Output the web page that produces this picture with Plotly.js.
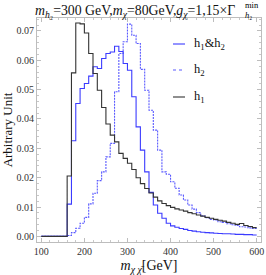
<!DOCTYPE html>
<html>
<head>
<meta charset="utf-8">
<script src="https://cdn.plot.ly/plotly-3.0.1.min.js"></script>
<style>html,body{margin:0;padding:0;background:#fff;}#chart{width:266px;height:275px;}</style>
</head>
<body>
<div id="chart"></div>
<script>
// Bin left edges (GeV), bin width 10 GeV
const binStart = [100,110,120,130,140,150,160,170,180,190,200,210,220,230,240,250,260,270,280,290,300,310,320,330,340,350,360,370,380,390,400,410,420,430,440,450,460,470,480,490,500,510,520,530,540,550,560,570,580,590];
const binEnd = 600;

// h1 & h2 (solid blue)
const h1h2 = [0,0,0,0,0,0,0.0110,0.0326,0.0453,0.0504,0.0521,0.0546,0.0578,0.0572,0.0606,0.0623,0.0628,0.0648,0.0630,0.0589,0.0566,0.0476,0.0373,0.0294,0.0220,0.0150,0.0107,0.0079,0.0062,0.0045,0.0036,0.0031,0.0027,0.0024,0.0020,0.0018,0.0016,0.0014,0.0013,0.0012,0.0011,0.0010,0.0009,0.0009,0.0008,0.0007,0.0007,0.0006,0.0006,0.0005];
// h2 (dashed blue)
const h2 = [0,0,0,0,0,0,0.0003,0.0013,0.0028,0.0045,0.0065,0.0111,0.0147,0.0190,0.0220,0.0271,0.0317,0.0493,0.0623,0.0663,0.0723,0.0685,0.0657,0.0569,0.0498,0.0430,0.0362,0.0294,0.0220,0.0212,0.0186,0.0164,0.0141,0.0124,0.0107,0.0093,0.0081,0.0070,0.0064,0.0058,0.0056,0.0050,0.0048,0.0043,0.0040,0.0037,0.0033,0.0032,0.0029,0.0027];
// h1 (solid black)
const h1 = [0,0,0,0,0,0,0.0206,0.0557,0.0727,0.0724,0.0693,0.0623,0.0555,0.0498,0.0439,0.0383,0.0345,0.0322,0.0283,0.0266,0.0249,0.0228,0.0200,0.0180,0.0163,0.0148,0.0134,0.0121,0.0112,0.0105,0.0099,0.0094,0.0090,0.0086,0.0081,0.0077,0.0073,0.0069,0.0065,0.0062,0.0058,0.0055,0.0052,0.0048,0.0045,0.0041,0.0044,0.0037,0.0034,0.0030];

const legendNames = ['h<sub>1</sub>&h<sub>2</sub>', 'h<sub>2</sub>', 'h<sub>1</sub>'];
const yTicks = [0,0.01,0.02,0.03,0.04,0.05,0.06,0.07];
const xTicks = [100,200,300,400,500,600];

const xs = binStart.concat([binEnd]);
function stepY(v){ return v.concat([v[v.length-1]]); }

const cBlue = '#3b3bff', cDash = '#5a5aff', cBlack = '#333333';
const traces = [
  {x: xs, y: stepY(h2), name: 'h2', mode:'lines', line:{shape:'hv', color:cDash, width:1.1, dash:'2px,1px'}, showlegend:false},
  {x: xs, y: stepY(h1h2), name: 'h1&h2', mode:'lines', line:{shape:'hv', color:cBlue, width:1.1}, showlegend:false},
  {x: xs, y: stepY(h1), name: 'h1', mode:'lines', line:{shape:'hv', color:cBlack, width:1.1}, showlegend:false}
];

const serif = 'Liberation Serif, Times New Roman, serif';
const L = 37, R = 261, T = 18, B = 242;
function px2paperX(p){ return (p-L)/(R-L); }
function px2paperY(p){ return (B-p)/(B-T); }

const legY = [44, 70, 97];
const legStyle = [{color:cBlue, dash:'solid'},{color:cDash, dash:'dot'},{color:cBlack, dash:'solid'}];
const shapes = [], annotations = [];
legendNames.forEach((n,i)=>{
  shapes.push({type:'line', xref:'paper', yref:'paper', x0:px2paperX(173), x1:px2paperX(185), y0:px2paperY(legY[i]), y1:px2paperY(legY[i]), line:{color:legStyle[i].color, width:1.1, dash:legStyle[i].dash}});
  annotations.push({xref:'paper', yref:'paper', x:px2paperX(192), y:px2paperY(legY[i]), xanchor:'left', yanchor:'middle', text:n, showarrow:false, font:{family:serif, size:12.5, color:'#111'}});
});
// stacked super/subscript of Gamma in the title
annotations.push({xref:'paper', yref:'paper', x:px2paperX(243), y:px2paperY(5), xanchor:'left', yanchor:'middle', text:'min', showarrow:false, font:{family:serif, size:8.5, color:'#000000'}});
annotations.push({xref:'paper', yref:'paper', x:px2paperX(243), y:px2paperY(14.5), xanchor:'left', yanchor:'middle', text:'<i>h</i>₂', showarrow:false, font:{family:serif, size:8.5, color:'#000000'}});

const axisCommon = {
  showline:true, linecolor:'#bdbdbd', linewidth:1, mirror:'ticks', ticks:'inside', ticklen:4, tickcolor:'#bdbdbd',
  showgrid:false, zeroline:false, tickfont:{family:serif, size:10, color:'#333'}
};

const layout = {
  width:266, height:275,
  margin:{l:L, r:266-R, t:T, b:275-B},
  paper_bgcolor:'#fff', plot_bgcolor:'#fff',
  title:{text:'<i>m</i><sub><i>h</i>₂</sub>=300 GeV,<i>m</i><sub><i>χ</i></sub>=80GeV,<i>g</i><sub><i>χ</i></sub>=1,15×Γ', x:35/266, xanchor:'left', xref:'container', y:1-10/275, yanchor:'middle', yref:'container', font:{family:serif, size:13.8, color:'#111'}},
  xaxis: Object.assign({}, axisCommon, {range:[90,610], tickvals:xTicks, ticktext:xTicks.map(String),
    minor:{ticks:'inside', ticklen:2, tickcolor:'#c8c8c8', dtick:20, showgrid:false},
    title:{text:'<i>m</i><sub><i>χ</i> <i>χ̄</i></sub>[GeV]', font:{family:serif, size:14, color:'#111'}, standoff:10}}),
  yaxis: Object.assign({}, axisCommon, {range:[-0.0019, 0.0744], tickvals:yTicks, ticktext:yTicks.map(v=>v.toFixed(2)),
    minor:{ticks:'inside', ticklen:2, tickcolor:'#c8c8c8', dtick:0.002, showgrid:false},
    title:{text:'Arbitrary Unit', font:{family:serif, size:13, color:'#111'}, standoff:4}}),
  shapes: shapes, annotations: annotations,
  showlegend:false
};

Plotly.newPlot('chart', traces, layout, {staticPlot:true, displayModeBar:false});
</script>
</body>
</html>
